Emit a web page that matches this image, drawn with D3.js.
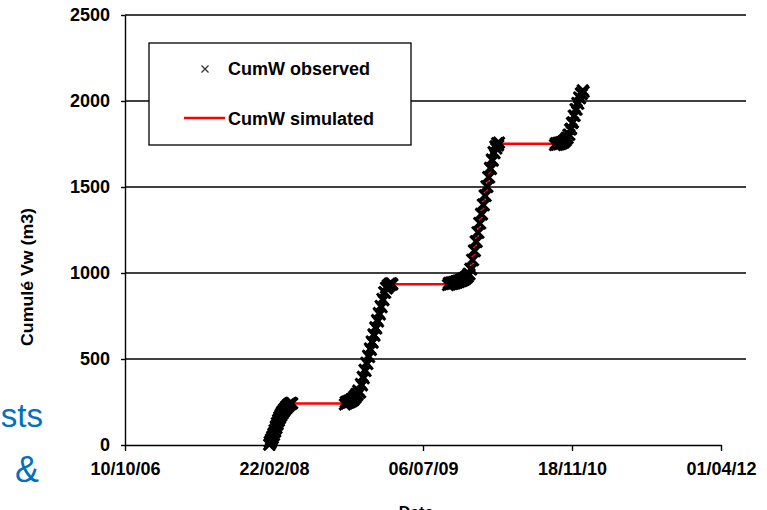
<!DOCTYPE html>
<html>
<head>
<meta charset="utf-8">
<script src="https://cdn.jsdelivr.net/npm/d3@7"></script>
<style>
  html, body { margin: 0; padding: 0; background: #fff; overflow: hidden; }
  svg { display: block; }
  text { font-family: "Liberation Sans", Arial, sans-serif; }
</style>
</head>
<body>
<svg id="chart" width="767" height="510"></svg>
<script>
// Cumulative water volume: observed points (×) and simulated curve (red)

// Date axis: ticks every 500 days; day offsets below count from the first tick
const xTickLabels = ["10/10/06", "22/02/08", "06/07/09", "18/11/10", "01/04/12"];
const yTicks = [0, 500, 1000, 1500, 2000, 2500];

// Observed cumulative volume (m3), one array pair per irrigation season
const season1Days   = [484, 486, 488, 490, 492, 494, 496, 498, 500, 502, 504, 506, 508, 510, 512, 514, 516, 518, 520, 522, 524, 526, 528, 530, 532, 534, 536, 538, 540, 542, 544, 546, 548, 550, 552, 554, 556, 558, 561];
const season1Values = [2, 18, 10, 32, 24, 48, 40, 66, 58, 86, 78, 108, 98, 128, 120, 146, 140, 162, 156, 176, 170, 188, 182, 198, 192, 208, 202, 216, 211, 224, 219, 232, 226, 238, 233, 243, 238, 246, 242];

const season2Days   = [738, 741, 744, 747, 750, 753, 756, 759, 762, 765, 768, 771, 774, 777, 780, 783, 786, 789, 792, 795, 798, 801, 804, 807, 810, 813, 816, 819, 822, 825, 828, 831, 834, 837, 840, 843, 846, 849, 852, 855, 858, 861, 864, 867, 870, 873, 876, 879, 882, 885, 888, 891, 894, 897];
const season2Values = [236, 250, 242, 254, 246, 258, 250, 264, 256, 272, 264, 284, 276, 298, 290, 316, 306, 306, 355, 347, 396, 388, 437, 430, 478, 471, 519, 512, 561, 553, 602, 595, 643, 636, 684, 677, 726, 718, 767, 759, 808, 801, 849, 842, 888, 885, 914, 910, 929, 922, 938, 930, 940, 934];

const season3Days   = [1084, 1087, 1090, 1093, 1096, 1099, 1102, 1105, 1108, 1111, 1114, 1117, 1120, 1123, 1126, 1129, 1132, 1135, 1138, 1141, 1144, 1147, 1150, 1153, 1156, 1159, 1162, 1165, 1168, 1171, 1174, 1177, 1180, 1183, 1186, 1189, 1192, 1195, 1198, 1201, 1204, 1207, 1210, 1213, 1216, 1219, 1222, 1225, 1228, 1231, 1234, 1237, 1240, 1243, 1246, 1249, 1252, 1255];
const season3Values = [930, 942, 934, 944, 936, 946, 938, 948, 941, 952, 944, 955, 948, 958, 952, 963, 956, 968, 961, 974, 968, 982, 978, 996, 992, 1024, 1021, 1077, 1074, 1131, 1127, 1184, 1181, 1237, 1234, 1291, 1288, 1344, 1341, 1398, 1394, 1451, 1448, 1504, 1501, 1558, 1555, 1611, 1605, 1660, 1653, 1703, 1696, 1736, 1724, 1754, 1742, 1758];

const season4Days   = [1443, 1446, 1449, 1452, 1455, 1458, 1461, 1464, 1467, 1470, 1473, 1476, 1479, 1482, 1485, 1488, 1491, 1494, 1497, 1500, 1503, 1506, 1509, 1512, 1515, 1518, 1521, 1524, 1527, 1530, 1533, 1536, 1539];
const season4Values = [1744, 1754, 1746, 1756, 1748, 1758, 1750, 1760, 1754, 1766, 1760, 1774, 1770, 1786, 1784, 1804, 1804, 1834, 1838, 1872, 1876, 1914, 1914, 1952, 1950, 1988, 1984, 2020, 2016, 2044, 2040, 2062, 2054];

// Simulated cumulative volume (m3)
const simDays   = [484, 492, 499, 506, 513, 520, 527, 534, 541, 548, 556, 741, 760, 775, 789, 873, 882, 891, 1087, 1141, 1158, 1225, 1237, 1246, 1255, 1446, 1476, 1491, 1527, 1538];
const simValues = [0, 28, 62, 100, 134, 162, 184, 203, 218, 231, 241, 241, 258, 282, 320, 893, 920, 935, 935, 962, 1000, 1596, 1690, 1736, 1752, 1752, 1772, 1808, 2030, 2060];

const seriesNames = ["CumW observed", "CumW simulated"];
const yTitle = "Cumulé Vw (m3)";
const xTitle = "Date";

// ---- layout ----
const plot = { left: 125, right: 721, top: 15, bottom: 445, gridRight: 746 };

const parseDay = d3.utcParse("%d/%m/%y");
const fmtDay = d3.utcFormat("%d/%m/%y");
const tickDates = xTickLabels.map(parseDay);
const dayMs = 864e5;
const toDate = d => new Date(tickDates[0].getTime() + d * dayMs);

const x = d3.scaleUtc()
  .domain([tickDates[0], tickDates[tickDates.length - 1]])
  .range([plot.left, plot.right]);
const y = d3.scaleLinear()
  .domain([0, 2500])
  .range([plot.bottom, plot.top]);

const svg = d3.select("#chart");

// background slide text peeking out on the left
const slide = svg.append("g").attr("fill", "#0070c0")
  .style("font-family", "'Open Sans', 'Noto Sans', sans-serif");
slide.append("text").attr("x", 43).attr("y", 427).attr("text-anchor", "end")
  .style("font-size", "33px").text("sts");
slide.append("text").attr("x", 27).attr("y", 482).attr("text-anchor", "middle")
  .style("font-size", "36px").text("&");

// horizontal gridlines
svg.append("g")
  .selectAll("line")
  .data(yTicks.filter(v => v > 0))
  .join("line")
  .attr("x1", plot.left).attr("x2", plot.gridRight)
  .attr("y1", d => y(d)).attr("y2", d => y(d))
  .attr("stroke", "#000").attr("stroke-width", 1.5);

// axes
const yAxis = svg.append("g")
  .attr("transform", `translate(${plot.left},0)`)
  .call(d3.axisLeft(y).tickValues(yTicks).tickFormat(d3.format("d"))
    .tickSize(4).tickSizeOuter(0).tickPadding(11));
const xAxis = svg.append("g")
  .attr("transform", `translate(0,${plot.bottom})`)
  .call(d3.axisBottom(x).tickValues(tickDates).tickFormat(fmtDay)
    .tickSize(6).tickSizeOuter(0).tickPadding(11));

[yAxis, xAxis].forEach(g => {
  g.select(".domain").attr("stroke", "#000").attr("stroke-width", 1.4);
  g.selectAll(".tick line").attr("stroke", "#000").attr("stroke-width", 1.4);
  g.selectAll(".tick text")
    .attr("fill", "#000")
    .style("font-size", "18px")
    .style("font-weight", "bold");
});

// axis titles
svg.append("text")
  .attr("transform", "translate(33,277) rotate(-90)")
  .attr("text-anchor", "middle")
  .attr("textLength", 138).attr("lengthAdjust", "spacingAndGlyphs")
  .style("font-size", "16px").style("font-weight", "bold")
  .text(yTitle);
svg.append("text")
  .attr("x", 416).attr("y", 518)
  .attr("text-anchor", "middle")
  .style("font-size", "16px").style("font-weight", "bold")
  .text(xTitle);

// simulated line
const simPoints = simDays.map((d, i) => [toDate(d), simValues[i]]);
svg.append("path")
  .datum(simPoints)
  .attr("fill", "none")
  .attr("stroke", "#ff0000")
  .attr("stroke-width", 2.5)
  .attr("d", d3.line().x(p => x(p[0])).y(p => y(p[1])));

// observed points
const seasons = [
  [season1Days, season1Values],
  [season2Days, season2Values],
  [season3Days, season3Values],
  [season4Days, season4Values]
];
const obsPoints = seasons.flatMap(([days, vals]) => days.map((d, i) => [toDate(d), vals[i]]));
const cross = s => `M${-s},${-s}L${s},${s}M${-s},${s}L${s},${-s}`;
svg.append("g")
  .selectAll("path")
  .data(obsPoints)
  .join("path")
  .attr("transform", p => `translate(${x(p[0])},${y(p[1])})`)
  .attr("d", cross(5.5))
  .attr("fill", "none")
  .attr("stroke", "#000")
  .attr("stroke-width", 3);

// legend
const legend = svg.append("g");
legend.append("rect")
  .attr("x", 149).attr("y", 43).attr("width", 262).attr("height", 102)
  .attr("fill", "#fff").attr("stroke", "#000").attr("stroke-width", 1.3);
legend.append("path")
  .attr("transform", "translate(205,69)")
  .attr("d", cross(3.5))
  .attr("fill", "none").attr("stroke", "#333").attr("stroke-width", 1.3);
legend.append("line")
  .attr("x1", 184).attr("x2", 225).attr("y1", 118).attr("y2", 118)
  .attr("stroke", "#ff0000").attr("stroke-width", 2.5);
legend.selectAll("text.item")
  .data(seriesNames)
  .join("text")
  .attr("class", "item")
  .attr("x", 228)
  .attr("y", (d, i) => 75 + i * 50)
  .style("font-size", "18px").style("font-weight", "bold")
  .attr("fill", "#000")
  .text(d => d);
</script>
</body>
</html>
